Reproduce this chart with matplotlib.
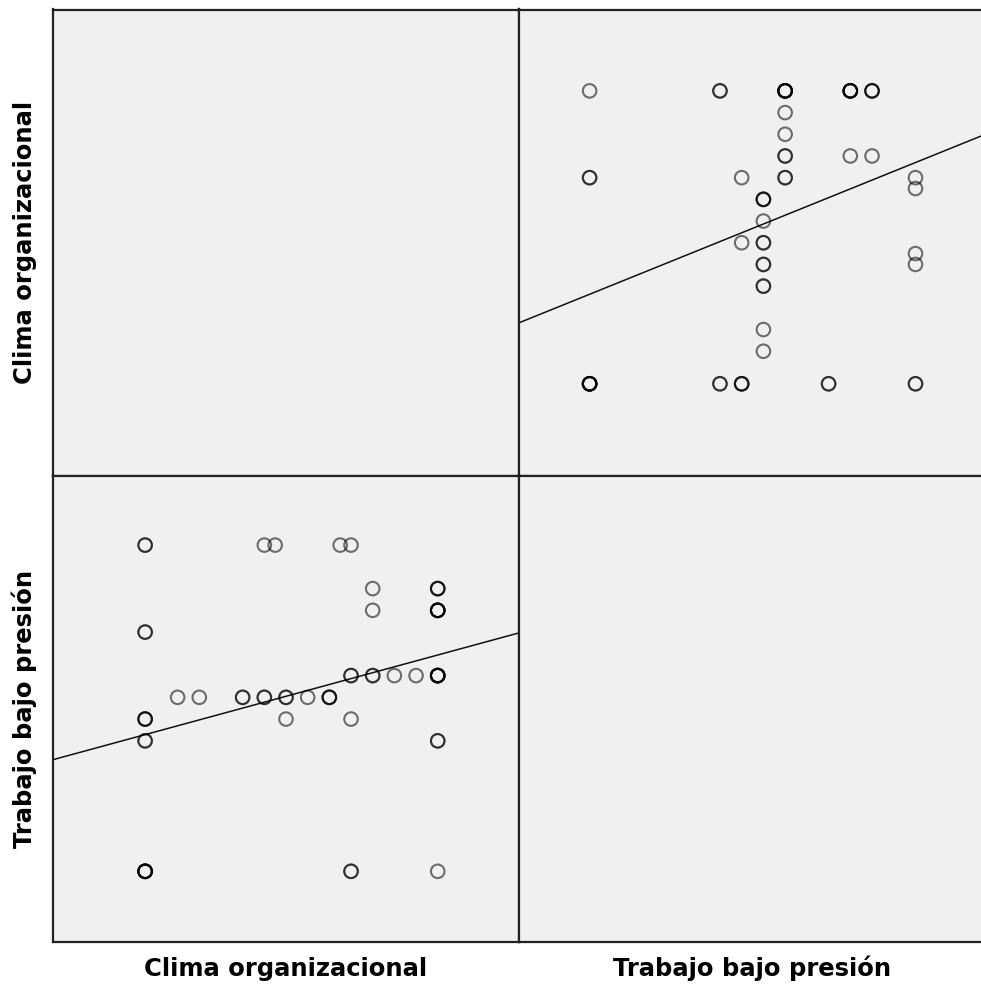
import matplotlib.pyplot as plt
import numpy as np

# scores (grouped: each pair appears `veces` times)
clima = [0, 11, 12, 18, 19,
         21, 27,
         21, 27,
         0,
         19, 21, 23, 25, 27,
         3, 5, 9, 11, 13, 15, 17,
         0, 13, 19,
         0, 27,
         0, 19, 27]
trabajo = [30, 30, 30, 30, 30,
           26, 26,
           24, 24,
           22,
           18, 18, 18, 18, 18,
           16, 16, 16, 16, 16, 16, 16,
           14, 14, 14,
           12, 12,
           0, 0, 0]
veces = [2, 1, 1, 1, 1,
         1, 3,
         1, 5,
         2,
         2, 2, 1, 1, 6,
         1, 1, 2, 2, 2, 1, 3,
         3, 1, 1,
         2, 2,
         6, 2, 1]

nombres = ["Clima organizacional", "Trabajo bajo presión"]

c = np.repeat(clima, veces).astype(float)
t = np.repeat(trabajo, veces).astype(float)
datos = [c, t]
limites = [(-8.5, 34.5), (-6.5, 36.4)]

fig = plt.figure(figsize=(9.81, 9.9), dpi=100)
fig.patch.set_facecolor("white")

izq = [53 / 981, 519 / 981]
ancho = 466 / 981
abajo = [(990 - 476) / 990, (990 - 942) / 990]
alto = 466.5 / 990

for fila in range(2):
    for col in range(2):
        ax = fig.add_axes([izq[col], abajo[fila], ancho, alto])
        ax.set_facecolor("#f0f0f0")
        ax.set_xlim(limites[col])
        ax.set_ylim(limites[fila])
        ax.set_xticks([])
        ax.set_yticks([])
        for s in ax.spines.values():
            s.set_linewidth(1.6)
            s.set_color("#222222")
        if fila != col:
            x = datos[col]
            y = datos[fila]
            # overlapping cases stack up darker
            ax.scatter(x, y, s=95, facecolors="none",
                       edgecolors=(0, 0, 0, 0.55), linewidths=1.5, zorder=3)
            m, b = np.polyfit(x, y, 1)
            xs = np.array(limites[col])
            ax.plot(xs, m * xs + b, color="#111111", lw=1.1, zorder=2)

# variable names, baseline-aligned under / beside each column and row
fuente = dict(fontsize=17.5, fontweight="bold", family="DejaVu Sans")
for col in range(2):
    fig.text(izq[col] + ancho / 2, 14 / 990, nombres[col],
             ha="center", va="baseline", **fuente)
for fila in range(2):
    fig.text(32.5 / 981, abajo[fila] + alto / 2, nombres[fila],
             rotation=90, rotation_mode="anchor",
             ha="center", va="baseline", **fuente)

fig.savefig("out.png", dpi=100)
